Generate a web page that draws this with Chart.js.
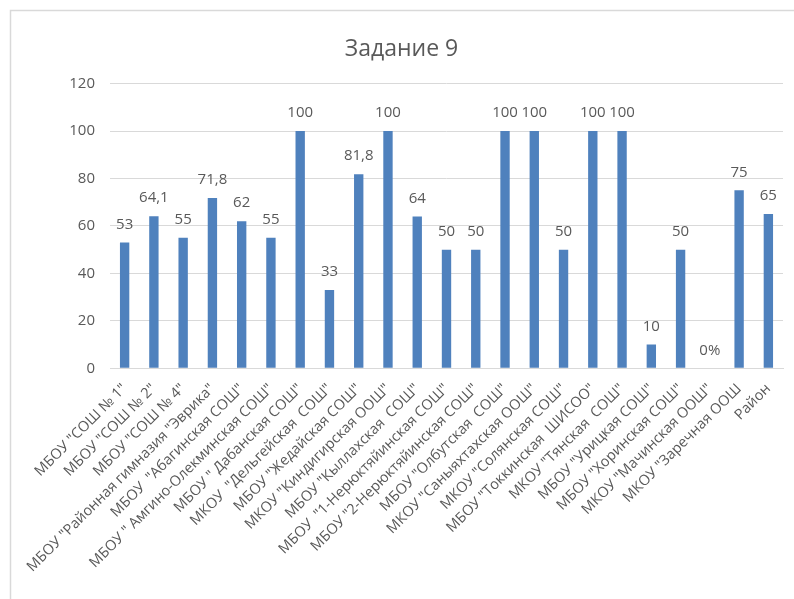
<!DOCTYPE html>
<html lang="ru">
<head>
<meta charset="UTF-8">
<title>Задание 9</title>
<script src="https://cdn.jsdelivr.net/npm/chart.js"></script>
<style>
  html, body { margin: 0; padding: 0; background: #fff; }
  #wrap { width: 794px; height: 599px; position: relative; }
</style>
</head>
<body>
<div id="wrap"><canvas id="grafico" width="794" height="599"></canvas></div>
<script>
// dati
const schools = [
  'МБОУ "СОШ № 1"',
  'МБОУ "СОШ № 2"',
  'МБОУ "СОШ № 4"',
  'МБОУ "Районная гимназия "Эврика"',
  'МБОУ  "Абагинская СОШ"',
  'МБОУ " Амгино-Олекминская СОШ"',
  'МБОУ " Дабанская СОШ"',
  'МКОУ  "Дельгейская  СОШ"',
  'МБОУ "Жедайская СОШ"',
  'МКОУ "Киндигирская ООШ"',
  'МБОУ "Кыллахская  СОШ"',
  'МБОУ  "1-Нерюктяйинская СОШ"',
  'МБОУ "2-Нерюктяйинская СОШ"',
  'МБОУ "Олбутская  СОШ"',
  'МКОУ "Саныяхтахская ООШ"',
  'МКОУ "Солянская СОШ"',
  'МБОУ "Токкинская  ШИСОО"',
  'МКОУ "Тянская  СОШ"',
  'МБОУ "Урицкая СОШ"',
  'МБОУ "Хоринская СОШ"',
  'МКОУ "Мачинская ООШ"',
  'МКОУ "Заречная ООШ',
  'Район'
];
const values = [53, 64.1, 55, 71.8, 62, 55, 100, 33, 81.8, 100, 64, 50, 50, 100, 100, 50, 100, 100, 10, 50, 0, 75, 65];
const valueLabels = ['53', '64,1', '55', '71,8', '62', '55', '100', '33', '81,8', '100', '64', '50', '50', '100', '100', '50', '100', '100', '10', '50', '0%', '75', '65'];
const yTicks = [0, 20, 40, 60, 80, 100, 120];

const grigio = '#595959';
const fontName = '"Open Sans", "Noto Sans", sans-serif';

// etichette sopra le barre + cornice
const etichette = {
  id: 'etichette',
  beforeDraw(chart) {
    const c = chart.ctx;
    c.save();
    c.strokeStyle = '#d9d9d9';
    c.lineWidth = 1.5;
    c.beginPath();
    c.moveTo(10.5, 599);
    c.lineTo(10.5, 10.5);
    c.lineTo(794, 10.5);
    c.stroke();
    c.restore();
  },
  afterDatasetsDraw(chart) {
    const c = chart.ctx;
    const meta = chart.getDatasetMeta(0);
    c.save();
    c.fillStyle = grigio;
    c.font = '15px ' + fontName;
    c.textAlign = 'center';
    c.textBaseline = 'middle';
    meta.data.forEach((bar, i) => {
      c.fillText(valueLabels[i], bar.x, bar.y - 18);
    });
    c.restore();
  }
};

const grafico = new Chart(document.getElementById('grafico'), {
  type: 'bar',
  data: {
    labels: schools,
    datasets: [{
      label: 'Задание 9',
      data: values,
      backgroundColor: '#4f81bd',
      borderWidth: 0,
      barPercentage: 0.32,
      categoryPercentage: 1
    }]
  },
  options: {
    responsive: false,
    animation: false,
    devicePixelRatio: 1,
    layout: { padding: { left: 20, right: 11, top: 10, bottom: 0 } },
    plugins: {
      legend: { display: false },
      tooltip: { enabled: false },
      title: {
        display: true,
        text: 'Задание 9',
        color: grigio,
        font: { family: fontName, size: 23, weight: 'normal' },
        padding: { top: 26, bottom: 20 }
      }
    },
    scales: {
      x: {
        grid: { display: false },
        border: { color: '#d9d9d9', width: 1 },
        ticks: {
          color: grigio,
          font: { family: fontName, size: 14.5 },
          autoSkip: false,
          minRotation: 45,
          maxRotation: 45,
          padding: 4
        },
        afterFit(scale) { scale.height = 230.7; }
      },
      y: {
        min: 0,
        max: 120,
        afterBuildTicks(scale) { scale.ticks = yTicks.map(v => ({ value: v })); },
        grid: { color: '#d9d9d9', lineWidth: 1, drawTicks: false },
        border: { display: false },
        ticks: {
          color: grigio,
          font: { family: fontName, size: 15 },
          padding: 15
        },
        afterFit(scale) { scale.width = 90; }
      }
    }
  },
  plugins: [etichette]
});
</script>
</body>
</html>
